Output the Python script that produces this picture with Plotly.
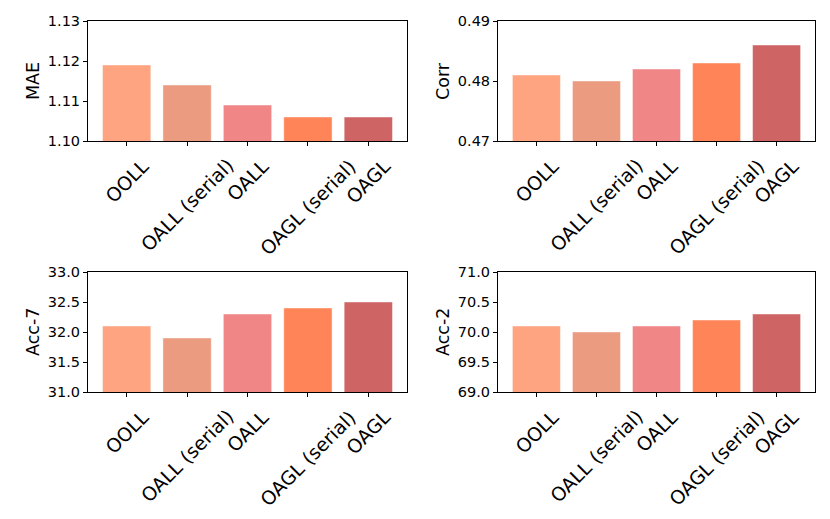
import plotly.graph_objects as go
from plotly.subplots import make_subplots

# data
methods = ["OOLL", "OALL (serial)", "OALL", "OAGL (serial)", "OAGL"]
mae = [1.119, 1.114, 1.109, 1.106, 1.106]
corr = [0.481, 0.480, 0.482, 0.483, 0.486]
acc7 = [32.1, 31.9, 32.3, 32.4, 32.5]
acc2 = [70.1, 70.0, 70.1, 70.2, 70.3]
bar_colors = ["#FFA07A", "#E9967A", "#F08080", "#FF7F50", "#CD5C5C"]

panels = [
    ("MAE", mae, [1.10, 1.13], 0.01, ".2f"),
    ("Corr", corr, [0.47, 0.49], 0.01, ".2f"),
    ("Acc-7", acc7, [31.0, 33.0], 0.5, ".1f"),
    ("Acc-2", acc2, [69.0, 71.0], 0.5, ".1f"),
]

# page body has an 8px margin, so the figure is sized to fit inside it
OFF = 8
W, H = 830 - 2 * OFF, 519 - 2 * OFF
fig = make_subplots(rows=2, cols=2)

# pixel boxes of each axes in the window (left, right, top, bottom)
boxes = [(88, 407, 21, 141), (498, 815, 21, 141),
         (88, 407, 272, 392), (498, 815, 272, 392)]

fam = "DejaVu Sans"

for i, (name, vals, yr, dt, fmt) in enumerate(panels):
    r, c = i // 2 + 1, i % 2 + 1
    fig.add_trace(go.Bar(
        x=list(range(len(methods))), y=vals,
        marker=dict(color=bar_colors, opacity=0.95,
                    line=dict(color="rgba(255,255,255,0.45)", width=1)),
        width=0.8, showlegend=False,
    ), row=r, col=c)
    l, rt, t, b = [v - OFF for v in boxes[i]]
    ax = "" if i == 0 else str(i + 1)
    fig.layout["xaxis" + ax].update(
        domain=[l / W, rt / W],
        range=[-0.64, 4.64],
        tickvals=list(range(len(methods))), showticklabels=False,
        ticks="outside", ticklen=4, tickcolor="black",
        showline=True, linecolor="black", linewidth=1, mirror=True,
        showgrid=False, zeroline=False, automargin=False,
    )
    fig.layout["yaxis" + ax].update(
        domain=[1 - b / H, 1 - t / H],
        range=yr, dtick=dt, tick0=yr[0], tickformat=fmt,
        ticks="outside", ticklen=4, tickcolor="black",
        showline=True, linecolor="black", linewidth=1, mirror=True,
        showgrid=False, zeroline=False, automargin=False,
        tickfont=dict(family=fam, size=14.5, color="black"),
    )
    # rotated, centred category labels (matplotlib style)
    for k, m in enumerate(methods):
        fig.add_annotation(
            x=k, y=1 - (b + 11) / H, xref="x" + ax, yref="paper",
            text=m, textangle=-45, showarrow=False,
            xanchor="center", yanchor="top",
            font=dict(family=fam, size=19, color="black"),
        )
    # y axis title
    fig.add_annotation(
        x=(l - 55) / W, y=1 - (t + b) / 2 / H, xref="paper", yref="paper",
        text=name, textangle=-90, showarrow=False,
        xanchor="center", yanchor="middle",
        font=dict(family=fam, size=17.5, color="black"),
    )

fig.update_layout(
    width=W, height=H,
    margin=dict(l=0, r=0, t=0, b=0),
    plot_bgcolor="white", paper_bgcolor="white",
    bargap=0.2,
)

fig.write_html("out.html")
